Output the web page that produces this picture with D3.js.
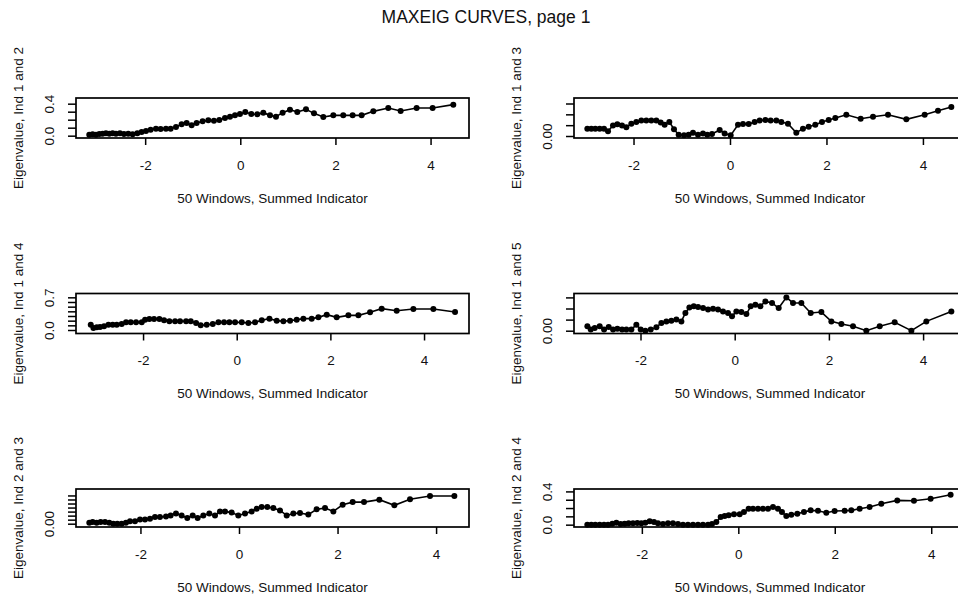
<!DOCTYPE html>
<html>
<head>
<meta charset="utf-8">
<script src="https://cdn.jsdelivr.net/npm/d3@7"></script>
<style>
  body { margin: 0; background: #fff; }
  text { font-family: "Liberation Sans", Arial, Helvetica, sans-serif; fill: #111; }
</style>
</head>
<body>
<svg id="chart" width="958" height="601"></svg>
<script>
// MAXEIG curves: largest eigenvalue of the indicator covariance in 50 sliding
// windows, plotted against the window mean of the summed indicator.

const pageTitle = "MAXEIG CURVES, page 1";
const xTitle = "50 Windows, Summed Indicator";
const xTickValues = [-2, 0, 2, 4];

// Ind 1 and 2
const x12 = [-3.175,-3.104,-3.034,-2.964,-2.894,-2.824,-2.754,-2.684,-2.614,-2.530,
  -2.446,-2.355,-2.263,-2.165,-2.074,-1.983,-1.885,-1.773,-1.675,-1.563,
  -1.465,-1.352,-1.233,-1.128,-1.023,-0.918,-0.792,-0.673,-0.554,-0.441,
  -0.322,-0.217,-0.112,-0.007,0.105,0.231,0.357,0.484,0.624,0.750,
  0.890,1.044,1.198,1.381,1.549,1.745,1.955,2.165,2.362,2.551,
  2.796,3.111,3.371,3.707,4.043,4.478];
const y12 = [0.013,0.017,0.013,0.021,0.025,0.029,0.025,0.029,0.025,0.029,
  0.021,0.025,0.017,0.029,0.046,0.058,0.075,0.088,0.083,0.088,
  0.088,0.108,0.142,0.158,0.129,0.158,0.179,0.192,0.188,0.196,
  0.221,0.238,0.254,0.271,0.296,0.271,0.267,0.288,0.254,0.238,
  0.288,0.325,0.296,0.329,0.279,0.233,0.254,0.254,0.254,0.254,
  0.304,0.346,0.308,0.346,0.346,0.388];

// Ind 1 and 3
const x13 = [-2.958,-2.875,-2.792,-2.702,-2.612,-2.529,-2.426,-2.336,-2.239,-2.149,
  -2.046,-1.942,-1.838,-1.735,-1.631,-1.527,-1.437,-1.355,-1.258,-1.161,
  -1.064,-0.954,-0.857,-0.767,-0.663,-0.560,-0.470,-0.373,-0.214,-0.111,
  0.014,0.166,0.270,0.387,0.511,0.615,0.733,0.843,0.961,1.064,
  1.202,1.375,1.513,1.631,1.769,1.907,2.046,2.184,2.412,2.709,
  2.965,3.276,3.656,4.036,4.312,4.589];
const y13 = [0.034,0.034,0.034,0.034,0.034,0.022,0.049,0.054,0.049,0.040,
  0.057,0.065,0.071,0.072,0.072,0.072,0.062,0.052,0.065,0.031,
  0.006,0.003,0.006,0.015,0.006,0.011,0.006,0.009,0.028,0.012,
  0.003,0.052,0.055,0.055,0.065,0.071,0.074,0.071,0.071,0.065,
  0.057,0.015,0.034,0.043,0.052,0.065,0.074,0.083,0.098,0.080,
  0.089,0.098,0.077,0.098,0.117,0.134];

// Ind 1 and 4
const x14 = [-3.117,-3.060,-2.989,-2.918,-2.833,-2.740,-2.648,-2.562,-2.456,-2.363,
  -2.263,-2.149,-2.028,-1.957,-1.865,-1.765,-1.651,-1.552,-1.438,-1.317,
  -1.210,-1.082,-0.982,-0.868,-0.769,-0.641,-0.512,-0.391,-0.270,-0.157,
  -0.036,0.107,0.249,0.391,0.534,0.698,0.854,0.996,1.139,1.281,
  1.423,1.601,1.744,1.922,2.135,2.384,2.598,2.847,3.096,3.416,
  3.772,4.199,4.662];
const y14 = [0.114,0.043,0.057,0.064,0.079,0.114,0.114,0.114,0.129,0.164,
  0.164,0.164,0.164,0.221,0.236,0.236,0.236,0.207,0.186,0.186,
  0.186,0.186,0.186,0.150,0.100,0.114,0.129,0.164,0.164,0.164,
  0.164,0.164,0.150,0.164,0.207,0.243,0.200,0.186,0.200,0.221,
  0.243,0.243,0.271,0.329,0.271,0.314,0.314,0.379,0.457,0.414,
  0.450,0.450,0.386];

// Ind 1 and 5
const x15 = [-3.128,-3.057,-2.972,-2.866,-2.774,-2.675,-2.583,-2.491,-2.392,-2.300,
  -2.194,-2.088,-1.996,-1.897,-1.783,-1.663,-1.557,-1.451,-1.345,-1.238,
  -1.132,-1.047,-0.962,-0.870,-0.778,-0.672,-0.566,-0.460,-0.354,-0.248,
  -0.142,-0.057,0.035,0.142,0.248,0.340,0.439,0.545,0.651,0.793,
  0.934,1.097,1.238,1.415,1.614,1.840,2.052,2.265,2.512,2.795,
  3.079,3.397,3.751,4.069,4.600];
const y15 = [0.020,0.005,0.012,0.020,0.005,0.017,0.005,0.009,0.005,0.005,
  0.005,0.027,0.005,0.000,0.005,0.015,0.035,0.042,0.045,0.050,
  0.042,0.080,0.105,0.110,0.107,0.102,0.095,0.099,0.095,0.087,
  0.080,0.065,0.087,0.084,0.075,0.110,0.117,0.110,0.132,0.125,
  0.102,0.150,0.125,0.125,0.080,0.084,0.042,0.030,0.020,0.000,
  0.020,0.038,0.000,0.042,0.087];

// Ind 2 and 3
const x23 = [-3.038,-2.970,-2.889,-2.808,-2.720,-2.632,-2.551,-2.470,-2.382,-2.294,
  -2.212,-2.111,-2.009,-1.908,-1.806,-1.705,-1.604,-1.482,-1.387,-1.279,
  -1.164,-1.049,-0.940,-0.839,-0.724,-0.602,-0.487,-0.386,-0.284,-0.149,
  -0.014,0.122,0.257,0.359,0.460,0.575,0.697,0.832,0.968,1.103,
  1.238,1.407,1.576,1.746,1.915,2.104,2.307,2.537,2.848,3.153,
  3.471,3.877,4.371];
const y23 = [0.005,0.008,0.005,0.008,0.008,0.005,0.000,0.000,0.000,0.005,
  0.012,0.012,0.021,0.021,0.025,0.033,0.033,0.036,0.041,0.050,
  0.041,0.028,0.041,0.028,0.041,0.050,0.041,0.061,0.061,0.055,
  0.041,0.050,0.061,0.074,0.083,0.083,0.078,0.066,0.041,0.050,
  0.053,0.045,0.071,0.078,0.061,0.094,0.107,0.107,0.119,0.091,
  0.121,0.137,0.137];

// Ind 2 and 4
const x24 = [-3.131,-3.048,-2.965,-2.875,-2.785,-2.702,-2.612,-2.529,-2.440,-2.357,
  -2.274,-2.184,-2.094,-2.011,-1.928,-1.838,-1.748,-1.666,-1.562,-1.458,
  -1.355,-1.251,-1.147,-1.044,-0.940,-0.836,-0.733,-0.629,-0.546,-0.456,
  -0.366,-0.283,-0.200,-0.090,0.028,0.117,0.214,0.304,0.408,0.511,
  0.615,0.719,0.822,0.905,0.995,1.099,1.223,1.361,1.500,1.652,
  1.824,1.997,2.205,2.343,2.516,2.723,2.965,3.296,3.642,3.988,
  4.402];
const y24 = [0,0,0,0,0,0,0.012,0.024,0.008,0.012,
  0.016,0.016,0.020,0.016,0.024,0.040,0.032,0.016,0.008,0.016,
  0.016,0.008,0,0,0,0,0,0,0.008,0.032,
  0.092,0.104,0.112,0.124,0.124,0.152,0.192,0.192,0.192,0.192,
  0.192,0.212,0.192,0.152,0.104,0.120,0.132,0.152,0.172,0.168,
  0.144,0.164,0.168,0.172,0.192,0.212,0.252,0.292,0.288,0.312,
  0.360];

// Axis limits and y ticks for each pair (labels that fit are printed)
const panels = [
  { name: "Eigenvalue, Ind 1 and 2", x: x12, y: y12, xlim: [-3.454, 4.808], ylim: [-0.029, 0.471],
    yTicks: [0, 0.1, 0.2, 0.3, 0.4], yLabels: [0, 0.4], digits: 1 },
  { name: "Eigenvalue, Ind 1 and 3", x: x13, y: y13, xlim: [-3.234, 4.893], ylim: [-0.0092, 0.1754],
    yTicks: [0, 0.05, 0.10, 0.15], yLabels: [0], digits: 2 },
  { name: "Eigenvalue, Ind 1 and 4", x: x14, y: y14, xlim: [-3.432, 4.960], ylim: [-0.075, 0.782],
    yTicks: [0, 0.1, 0.2, 0.3, 0.4, 0.5, 0.6, 0.7], yLabels: [0, 0.7], digits: 1 },
  { name: "Eigenvalue, Ind 1 and 5", x: x15, y: y15, xlim: [-3.412, 4.911], ylim: [-0.0126, 0.1676],
    yTicks: [0, 0.05, 0.10, 0.15], yLabels: [0], digits: 2 },
  { name: "Eigenvalue, Ind 2 and 3", x: x23, y: y23, xlim: [-3.308, 4.668], ylim: [-0.0164, 0.172],
    yTicks: [0, 0.02, 0.04, 0.06, 0.08, 0.10, 0.12, 0.14], yLabels: [0], digits: 2 },
  { name: "Eigenvalue, Ind 2 and 4", x: x24, y: y24, xlim: [-3.407, 4.721], ylim: [-0.028, 0.429],
    yTicks: [0, 0.1, 0.2, 0.3, 0.4], yLabels: [0, 0.4], digits: 1 }
];

const svg = d3.select("#chart");
const colSpan = [[76, 469], [574, 966]];
const rowSpan = [[98, 138], [293.5, 333.5], [489, 527]];
const fontSize = 13.5;

svg.append("text")
  .attr("x", 486).attr("y", 17)
  .attr("text-anchor", "middle").attr("dominant-baseline", "central")
  .style("font-size", "17.5px")
  .text(pageTitle);

const fmtX = d => (d < 0 ? "-" + Math.abs(d) : String(d));

panels.forEach((p, i) => {
  const [x0, x1] = colSpan[i % 2];
  const [y0, y1] = rowSpan[Math.floor(i / 2)];
  const xs = d3.scaleLinear().domain(p.xlim).range([x0, x1]);
  const ys = d3.scaleLinear().domain(p.ylim).range([y1, y0]);
  const g = svg.append("g");

  // bottom axis
  const ax = g.append("g").attr("transform", `translate(0,${y1})`)
    .call(d3.axisBottom(xs).tickValues(xTickValues).tickSize(7).tickSizeOuter(0).tickFormat(fmtX));
  ax.select(".domain").remove();
  ax.selectAll(".tick line").attr("stroke", "#000").attr("stroke-width", 1.5);
  ax.selectAll(".tick text").attr("y", 27).attr("dy", null)
    .attr("dominant-baseline", "central").style("font-size", fontSize + "px").attr("fill", "#111");

  // left axis, labels parallel to the axis
  const fmtY = d3.format("." + p.digits + "f");
  const ay = g.append("g").attr("transform", `translate(${x0},0)`)
    .call(d3.axisLeft(ys).tickValues(p.yTicks).tickSize(8).tickSizeOuter(0)
      .tickFormat(d => p.yLabels.some(v => Math.abs(v - d) < 1e-9) ? fmtY(d) : ""));
  ay.select(".domain").remove();
  ay.selectAll(".tick line").attr("stroke", "#000").attr("stroke-width", 1.5);
  ay.selectAll(".tick text")
    .attr("x", null).attr("dy", null)
    .attr("text-anchor", "middle").attr("dominant-baseline", "central")
    .attr("transform", "translate(-27,0) rotate(-90)")
    .style("font-size", fontSize + "px").attr("fill", "#111");

  // plot frame
  g.append("rect")
    .attr("x", x0).attr("y", y0).attr("width", x1 - x0).attr("height", y1 - y0)
    .attr("fill", "none").attr("stroke", "#000").attr("stroke-width", 1.7);

  // curve with points
  const pts = p.x.map((v, k) => [v, p.y[k]]);
  g.append("path").datum(pts)
    .attr("d", d3.line().x(d => xs(d[0])).y(d => ys(d[1])))
    .attr("fill", "none").attr("stroke", "#000").attr("stroke-width", 1.6);
  g.selectAll("circle").data(pts).join("circle")
    .attr("cx", d => xs(d[0])).attr("cy", d => ys(d[1])).attr("r", 3).attr("fill", "#000");

  // axis titles
  g.append("text")
    .attr("x", (x0 + x1) / 2).attr("y", y1 + 60)
    .attr("text-anchor", "middle").attr("dominant-baseline", "central")
    .style("font-size", fontSize + "px")
    .text(xTitle);
  g.append("text")
    .attr("transform", `translate(${x0 - 58},${(y0 + y1) / 2}) rotate(-90)`)
    .attr("text-anchor", "middle").attr("dominant-baseline", "central")
    .style("font-size", fontSize + "px")
    .text(p.name);
});
</script>
</body>
</html>
